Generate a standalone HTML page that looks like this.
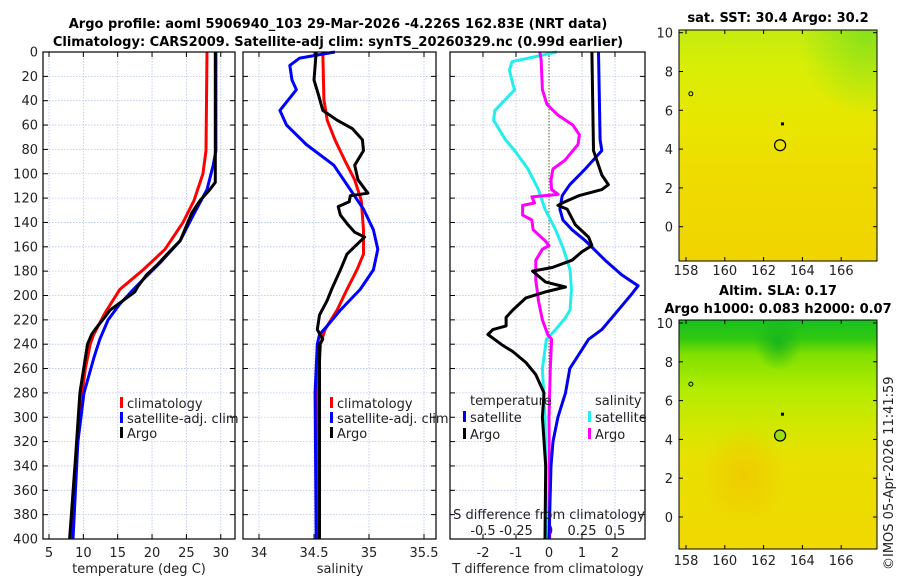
<!DOCTYPE html>
<html><head><meta charset="utf-8"><style>
body{margin:0;background:#fff;}
svg{display:block;font-family:"DejaVu Sans","Liberation Sans",sans-serif;}
</style></head><body>
<svg id="fig" width="900" height="580" viewBox="0 0 900 580" xmlns="http://www.w3.org/2000/svg">
<defs>
<linearGradient id="sstBase" x1="0" y1="0" x2="0" y2="1">
<stop offset="0" stop-color="#c4ec10"/><stop offset="0.15" stop-color="#d8ee06"/><stop offset="0.4" stop-color="#e8e600"/><stop offset="0.6" stop-color="#eedc00"/><stop offset="1" stop-color="#f0d400"/>
</linearGradient>
<radialGradient id="sstGreen" cx="0.95" cy="0.02" r="0.35"><stop offset="0" stop-color="#70dc20" stop-opacity="0.7"/><stop offset="1" stop-color="#70dc20" stop-opacity="0"/></radialGradient>
<linearGradient id="slaBase" x1="0" y1="0" x2="0" y2="1">
<stop offset="0" stop-color="#18c020"/><stop offset="0.08" stop-color="#30c810"/><stop offset="0.15" stop-color="#80e000"/><stop offset="0.3" stop-color="#b0ec00"/><stop offset="0.45" stop-color="#d0e800"/><stop offset="0.6" stop-color="#e8e000"/><stop offset="1" stop-color="#f0d800"/>
</linearGradient>
<radialGradient id="slaOrange" cx="0.33" cy="0.68" r="0.22"><stop offset="0" stop-color="#f0c400" stop-opacity="0.7"/><stop offset="1" stop-color="#f0c400" stop-opacity="0"/></radialGradient>
<radialGradient id="slaDark" cx="0.5" cy="0.1" r="0.12"><stop offset="0" stop-color="#10b020" stop-opacity="0.8"/><stop offset="1" stop-color="#10b020" stop-opacity="0"/></radialGradient>
</defs>
<g id="titles">
<text x="338" y="28" text-anchor="middle" font-size="13" font-weight="bold">Argo profile: aoml 5906940_103 29-Mar-2026 -4.226S 162.83E (NRT data)</text>
<text x="338" y="46" text-anchor="middle" font-size="13" font-weight="bold">Climatology: CARS2009. Satellite-adj clim: synTS_20260329.nc (0.99d earlier)</text>
<text x="778" y="22" text-anchor="middle" font-size="13" font-weight="bold">sat. SST: 30.4 Argo: 30.2</text>
<text x="778" y="295" text-anchor="middle" font-size="13" font-weight="bold">Altim. SLA: 0.17</text>
<text x="778" y="313" text-anchor="middle" font-size="13" font-weight="bold">Argo h1000: 0.083 h2000: 0.07</text>
<text x="0" y="0" transform="translate(893,570) rotate(-90)" font-size="13" fill="#222">©IMOS 05-Apr-2026 11:41:59</text>
</g>
<g id="panels"></g>
<g id="maps"></g>
</svg>
<script>
const NS="http://www.w3.org/2000/svg";
// ---- data ----
const depthTicks=[0,20,40,60,80,100,120,140,160,180,200,220,240,260,280,300,320,340,360,380,400];
const tempTicks=[5,10,15,20,25,30];
const salTicks=[34,34.5,35,35.5];
const tdiffTicks=[-2,-1,0,1,2];
const sdiffTicks=[-0.5,-0.25,0,0.25,0.5];
const tdiffTickLabels=["-2","-1","0","1","2"];
const sdiffTickLabels=["-0.5","-0.25","0","0.25","0.5"];
const tempClimDepth=[0,81,100,122,140,162,179,195,214,232,240,260,280,340,400];
const tempClim=[28.0,27.85,27.4,26.1,24.5,21.9,18.7,15.3,13.2,11.5,11.0,10.3,9.8,8.9,8.2];
const tempSatDepth=[0,81,93,113,134,155,173,192,207,220,236,250,280,320,400];
const tempSat=[29.3,29.3,28.9,28.0,26.0,24.1,21.2,17.8,15.3,13.6,12.4,11.6,10.1,9.2,8.5];
const tempArgoDepth=[0,107,113,122,132,155,166,175,183,192,197,204,212,218,225,228,232,240,280,330,400];
const tempArgo=[29.2,29.2,28.4,27.0,25.8,24.1,22.2,20.7,19.2,18.0,17.5,15.8,13.9,13.1,12.1,11.7,11.2,10.6,9.5,8.9,8.0];
const salClimDepth=[0,39,56,72,89,105,122,146,166,179,195,212,228,240,280,400];
const salClim=[34.58,34.59,34.62,34.69,34.78,34.87,34.93,34.95,34.95,34.89,34.80,34.71,34.60,34.56,34.53,34.54];
const salSatDepth=[0,5,11,23,31,48,60,76,93,113,129,146,162,179,195,212,225,232,240,280,400];
const salSat=[34.69,34.37,34.28,34.30,34.34,34.19,34.25,34.43,34.68,34.83,34.95,35.04,35.08,35.04,34.92,34.74,34.62,34.55,34.53,34.51,34.52];
const salArgoDepth=[0,23,35,48,56,63,72,81,93,105,116,118,123,127,134,142,148,152,159,166,179,195,204,216,228,236,240,400];
const salArgo=[34.52,34.50,34.54,34.58,34.71,34.85,34.94,34.95,34.87,34.90,34.99,34.83,34.82,34.72,34.74,34.81,34.87,34.96,34.88,34.80,34.74,34.66,34.62,34.55,34.53,34.58,34.55,34.55];
const tdSatDepth=[0,72,81,96,109,118,129,138,146,155,171,183,192,199,212,228,236,260,280,300,320,340,400];
const tdSat=[1.5,1.55,1.6,1.1,0.63,0.4,0.33,0.42,0.7,1.1,1.7,2.2,2.7,2.5,2.1,1.6,1.2,0.63,0.5,0.27,0.12,0.06,0.0];
const tdArgoDepth=[0,81,93,101,109,113,118,124,126,129,142,152,159,164,171,177,180,189,193,197,202,212,218,225,228,232,241,246,255,265,280,300,340,400];
const tdArgo=[1.3,1.35,1.5,1.6,1.8,1.6,0.9,0.4,0.27,0.55,0.8,1.2,1.3,1.0,0.7,0.1,-0.5,-0.1,0.5,-0.1,-0.7,-1.1,-1.3,-1.3,-1.7,-1.85,-1.4,-1.1,-0.7,-0.4,-0.15,-0.2,-0.1,-0.12];
const sdSatDepth=[0,8,15,28,31,39,48,56,72,81,96,113,129,146,162,179,195,212,219,228,236,260,300,400];
const sdSat=[0.06,-0.28,-0.3,-0.27,-0.26,-0.33,-0.41,-0.42,-0.33,-0.26,-0.16,-0.08,-0.03,0.05,0.11,0.16,0.17,0.16,0.12,0.05,-0.02,-0.05,-0.03,-0.015];
const sdArgoDepth=[0,6,31,43,52,60,68,76,89,96,105,113,117,119,124,126,134,138,146,155,159,162,171,188,195,204,220,232,236,260,300,400];
const sdArgo=[-0.07,-0.06,-0.05,-0.015,0.07,0.18,0.23,0.22,0.12,0.03,0.015,0.02,0.07,-0.13,-0.11,-0.2,-0.2,-0.13,-0.12,-0.03,0,-0.05,-0.1,-0.1,-0.09,-0.08,-0.05,-0.01,0.02,0.01,0.0,0.005];
const lonTicks=[158,160,162,164,166];
const latTicks=[0,2,4,6,8,10];
const argoLon=162.85, argoLat=4.2;

// ---- axes ----
const TOP=52, BOT=539;
const yD=d=>TOP+d*(BOT-TOP)/400;
const xT=t=>49+(t-5)*6.87;
const xS=s=>259+(s-34)*110;
const xTD=v=>549+v*33;
const xSD=v=>549+v*132;
const P=[{x0:43,x1:235},{x0:243,x1:436},{x0:450,x1:645}];
const gP=document.getElementById('panels');
function el(tag,attrs,parent){const e=document.createElementNS(NS,tag);for(const k in attrs)e.setAttribute(k,attrs[k]);(parent||gP).appendChild(e);return e;}
function txt(x,y,s,size,anchor,parent,fill){const t=el('text',{x:x,y:y,'font-size':size,'text-anchor':anchor||'middle',fill:fill||'#222'},parent);t.textContent=s;return t;}

P.forEach((p,i)=>{
  const g=el('g',{});
  
  
  depthTicks.forEach(d=>{
    const l=el('line',{x1:p.x0,x2:p.x1,y1:yD(d),y2:yD(d),stroke:'#b8c4e8','stroke-width':0.8,'stroke-dasharray':'1.5,1.5'},g);
    
    
    el('line',{x1:p.x0,x2:p.x0+5,y1:yD(d),y2:yD(d),stroke:'#000'},g);
    el('line',{x1:p.x1-5,x2:p.x1,y1:yD(d),y2:yD(d),stroke:'#000'},g);
  });
});
function vgrid(ticks,fx,p,lbls,ly,size){
  ticks.forEach((t,k)=>{
    const x=fx(t);
    const l=el('line',{x1:x,x2:x,y1:TOP,y2:BOT,stroke:'#b8c4e8','stroke-width':0.8,'stroke-dasharray':'1.5,1.5'});
    
    
    el('line',{x1:x,x2:x,y1:TOP,y2:TOP+5,stroke:'#000'});
    el('line',{x1:x,x2:x,y1:BOT-5,y2:BOT,stroke:'#000'});
    if(lbls){const t2=txt(x,ly,lbls[k],size||13);
      
      }
  });
}
vgrid(tempTicks,xT,P[0],tempTicks.map(String),557);
vgrid(salTicks,xS,P[1],salTicks.map(String),557);
vgrid(tdiffTicks,xTD,P[2],tdiffTickLabels,557);
sdiffTicks.forEach((t,k)=>{const t2=txt(xSD(t),535,sdiffTickLabels[k],13);
  
  });
el('line',{x1:549,x2:549,y1:TOP,y2:BOT,stroke:'#555522','stroke-width':1,'stroke-dasharray':'1.5,1.5'});
depthTicks.forEach(d=>{const t=txt(38,yD(d)+4.5,String(d),13,'end');
  
  });

function line(ds,vs,fx,color,name){
  const pts=ds.map((d,k)=>fx(vs[k]).toFixed(1)+','+yD(d).toFixed(1)).join(' ');
  const pl=el('polyline',{points:pts,fill:'none',stroke:color,'stroke-width':3,'stroke-linejoin':'round'});
  
  
}
line(tempClimDepth,tempClim,xT,'#ff0000','temp-climatology-line');
line(tempSatDepth,tempSat,xT,'#0000ff','temp-satellite-line');
line(tempArgoDepth,tempArgo,xT,'#000000','temp-argo-line');
line(salClimDepth,salClim,xS,'#ff0000','sal-climatology-line');
line(salSatDepth,salSat,xS,'#0000ff','sal-satellite-line');
line(salArgoDepth,salArgo,xS,'#000000','sal-argo-line');
line(sdSatDepth,sdSat,xSD,'#22eeee','sdiff-satellite-line');
line(sdArgoDepth,sdArgo,xSD,'#ff00ff','sdiff-argo-line');
line(tdSatDepth,tdSat,xTD,'#0000ee','tdiff-satellite-line');
line(tdArgoDepth,tdArgo,xTD,'#000000','tdiff-argo-line');

P.forEach((p,i)=>{const r=el('rect',{x:p.x0,y:TOP,width:p.x1-p.x0,height:BOT-TOP,fill:'none',stroke:'#000','stroke-width':1.2});
  
  });

function leg(x,y,color,label){
  const g=el('g',{});
  
  
  el('rect',{x:x,y:y-11,width:3,height:11,fill:color},g);
  txt(x+7,y,label,13,'start',g);
}
leg(120,408,'#ff0000','climatology');leg(120,423,'#0000ff','satellite-adj. clim');leg(120,438,'#000','Argo');
leg(330,408,'#ff0000','climatology');leg(330,423,'#0000ff','satellite-adj. clim');leg(330,438,'#000','Argo');
const lt=txt(470,405,'temperature',13,'start');
const ls=txt(595,405,'salinity',13,'start');
leg(463,422,'#0000ee','satellite');leg(463,439,'#000','Argo');
leg(588,422,'#22eeee','satellite');leg(588,439,'#ff00ff','Argo');

[[139,'temperature (deg C)'],[340,'salinity'],[548,'T difference from climatology']].forEach(a=>{
  const t=txt(a[0],573,a[1],13);});
const sdt=txt(549,519,'S difference from climatology',13);

// ---- maps ----
const gM=document.getElementById('maps');
const MX0=679,MX1=877;
const xLon=l=>686+(l-158)*19.4;
function map(top,bot,lat0y,fillBase,overlays,name,lonY,circleFill){
  const yLat=l=>lat0y-l*19.4;
  const g=el('g',{},gM);
  
  
  el('rect',{x:MX0,y:top,width:MX1-MX0,height:bot-top,fill:fillBase},g);
  overlays.forEach(o=>el('rect',{x:MX0,y:top,width:MX1-MX0,height:bot-top,fill:o},g));
  latTicks.forEach(l=>{
    el('line',{x1:MX0,x2:MX0+4,y1:yLat(l),y2:yLat(l),stroke:'#000'},g);
    el('line',{x1:MX1-4,x2:MX1,y1:yLat(l),y2:yLat(l),stroke:'#000'},g);
    txt(MX0-6,yLat(l)+5,String(l),13,'end',g);
  });
  lonTicks.forEach(l=>{
    el('line',{x1:xLon(l),x2:xLon(l),y1:bot-4,y2:bot,stroke:'#000'},g);
    el('line',{x1:xLon(l),x2:xLon(l),y1:top,y2:top+4,stroke:'#000'},g);
    txt(xLon(l),lonY,String(l),13,'middle',g);
  });
  el('rect',{x:MX0,y:top,width:MX1-MX0,height:bot-top,fill:'none',stroke:'#000','stroke-width':1},g);
  const c=el('circle',{cx:xLon(argoLon),cy:yLat(argoLat),r:5.5,fill:circleFill,stroke:'#000','stroke-width':1.2},g);
  
  
  el('circle',{cx:xLon(158.25),cy:yLat(6.85),r:2,fill:'none',stroke:'#000'},g);
  el('rect',{x:xLon(163)-2,y:yLat(5.3)-1.5,width:3,height:3,fill:'#000'},g);
}
map(30,261,226.7,'url(#sstBase)',['url(#sstGreen)'],'sst-map',275,'none');
map(320,549,517,'url(#slaBase)',['url(#slaOrange)','url(#slaDark)'],'sla-map',565,'#99e010');
</script>
</body></html>
